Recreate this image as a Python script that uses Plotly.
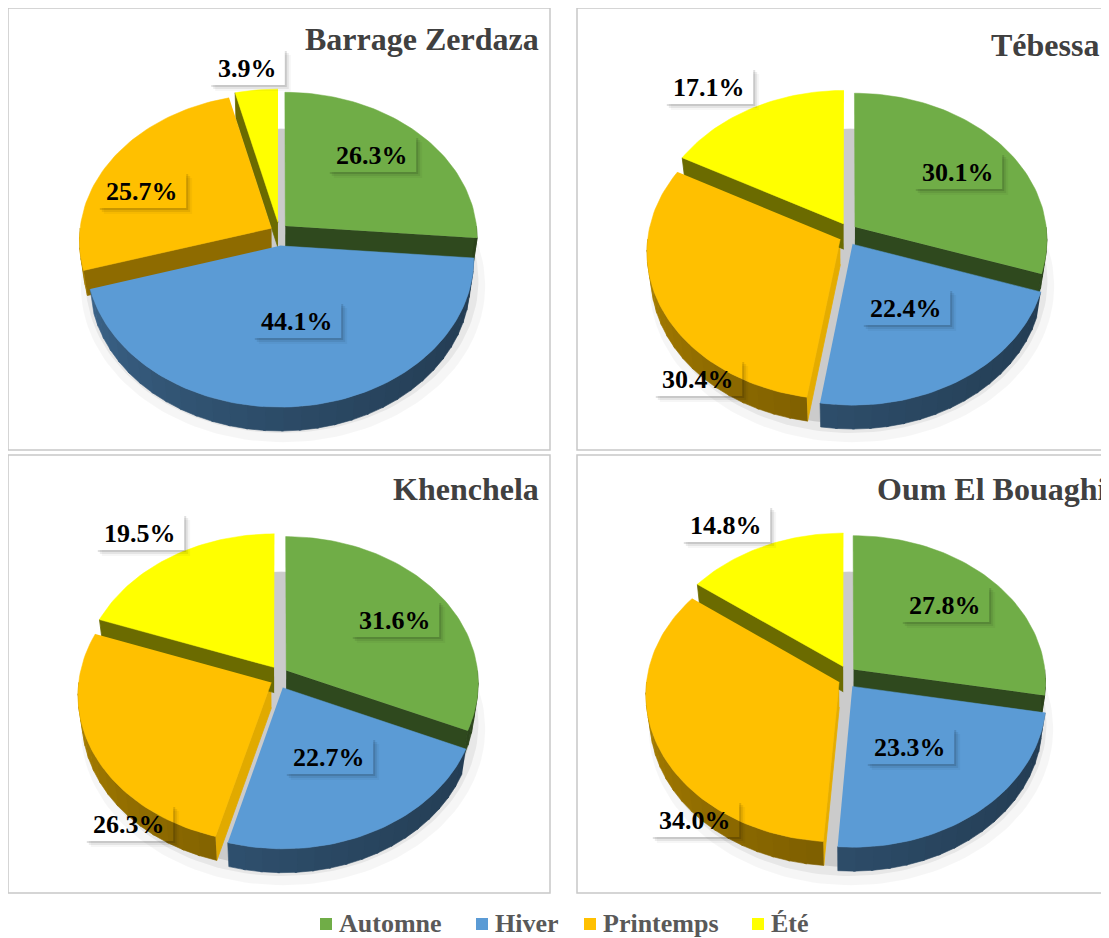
import numpy as np
import plotly.graph_objects as go

# ---------------- data ----------------
seasons = ["Automne", "Hiver", "Printemps", "Été"]
stations = ["Barrage Zerdaza", "Tébessa", "Khenchela", "Oum El Bouaghi"]
zerdaza = [26.3, 44.1, 25.7, 3.9]
tebessa = [30.1, 22.4, 30.4, 17.1]
khenchela = [31.6, 22.7, 26.3, 19.5]
oum_el_bouaghi = [27.8, 23.3, 34.0, 14.8]
station_values = [zerdaza, tebessa, khenchela, oum_el_bouaghi]

# ---------------- style / layout ----------------
season_colors = ["#70AD47", "#5B9BD5", "#FFC000", "#FFFF00"]
W, H = 1109, 938
PAGE_MARGIN = 8  # default body margin of the html page
FONT = "Liberation Serif"
panel_boxes = [(8, 8, 550, 450), (577, 8, 1124, 450), (8, 455, 550, 893), (577, 455, 1124, 893)]
pie_centers = [(279, 234), (848, 234), (279, 677), (847, 677)]
title_anchor = [(541, 39), (1101, 45), (541, 489), (1108.5, 489)]
# label centre offsets from the pie centre (px)
label_offsets = [
    [(93, -80), (18, 86), (-137, -44), (-32, -167)],
    [(110, -63), (58, 73), (-150, 144), (-139, -148)],
    [(116, -58), (50, 79), (-150, 146), (-139, -145)],
    [(98, -73), (63, 69), (-152, 142), (-121, -153)],
]
R = 192
TILT = np.radians(49.5)
DIST = 7.9
DEPTH = 0.206
EXPLODE = 0.045
EXPLODE_Y = 1.8
LABEL_SIZE = 26
LEGEND_SIZE = 26


def hex2rgb(c):
    c = c.lstrip("#")
    return [int(c[i:i + 2], 16) for i in (0, 2, 4)]


def shade(c, k):
    return "rgb(%d,%d,%d)" % tuple(min(255, int(round(v * k))) for v in hex2rgb(c))


fig = go.Figure()


def add_poly(xs, ys, color, width=0.8):
    fig.add_trace(go.Scatter(
        x=list(xs), y=list(ys), mode="lines", fill="toself", fillcolor=color,
        line=dict(color=color, width=width), hoverinfo="skip", showlegend=False))


def make_proj(cx, cy):
    def proj(X, Y, Z):
        X = np.asarray(X, float)
        Y = np.asarray(Y, float)
        Z = np.asarray(Z, float) * np.ones_like(X)
        v = Y * np.sin(TILT) + Z * np.cos(TILT)
        w = -Y * np.cos(TILT) + Z * np.sin(TILT)
        f = DIST / (DIST - w)
        return cx + R * X * f, cy - R * v * f
    return proj


def arc(a0, a1, step=1.5):
    n = max(int(np.ceil(abs(a1 - a0) / step)), 2)
    return np.radians(np.linspace(a0, a1, n + 1))


for p, vals in enumerate(station_values):
    cx, cy = pie_centers[p]
    proj = make_proj(cx, cy)
    total = float(sum(vals))
    cum = np.concatenate([[0], np.cumsum(vals)]) / total * 360.0

    # soft floor shadow (offset down/right)
    th = np.radians(np.linspace(0, 360, 181))
    for rr, alpha, dx, dy in [(1.07, 0.035, 4, 13), (1.04, 0.06, 3, 9), (1.01, 0.12, 2, 5)]:
        sx, sy = proj(rr * np.sin(th), rr * np.cos(th), -DEPTH)
        add_poly(sx + dx, sy + dy, "rgba(0,0,0,%.3f)" % alpha, width=0)

    slices = []
    for i in range(len(vals)):
        a0, a1 = cum[i], cum[i + 1]
        m = np.radians((a0 + a1) / 2)
        ox = EXPLODE * np.sin(m)
        oy = EXPLODE * EXPLODE_Y * np.cos(m)
        slices.append((a0, a1, ox, oy, season_colors[i]))

    # radial cut faces
    for a0, a1, ox, oy, col in slices:
        for a, psi in [(a0, a0 - 90), (a1, a1 + 90)]:
            pr = np.radians(psi)
            if np.cos(pr) < -0.02:
                k = 0.42 + 0.48 * max(0.0, np.sin(pr))
                ar = np.radians(a)
                X = [ox, ox + np.sin(ar), ox + np.sin(ar), ox]
                Y = [oy, oy + np.cos(ar), oy + np.cos(ar), oy]
                Z = np.array([0, 0, -DEPTH, -DEPTH])
                xs, ys = proj(X, Y, Z)
                add_poly(xs, ys, shade(col, k))

    # outer walls (front half)
    for a0, a1, ox, oy, col in slices:
        lo, hi = max(a0, 90.0), min(a1, 270.0)
        if hi <= lo:
            continue
        n = int(np.ceil((hi - lo) / 5.0))
        edges = np.linspace(lo, hi, n + 1)
        for j in range(n):
            t0, t1 = edges[j], edges[j + 1]
            tm = (t0 + t1) / 2
            k = 0.38 + 0.30 * ((tm - 90) / 180.0) ** 1.5
            t = np.radians(np.linspace(t0, min(t1 + 0.6, hi), 5))
            xt, yt = proj(ox + np.sin(t), oy + np.cos(t), 0)
            xb, yb = proj(ox + np.sin(t[::-1]), oy + np.cos(t[::-1]), -DEPTH)
            add_poly(np.concatenate([xt, xb]), np.concatenate([yt, yb]), shade(col, k), width=0.6)

    # top faces
    for a0, a1, ox, oy, col in slices:
        t = arc(a0, a1)
        X = np.concatenate([[ox], ox + np.sin(t)])
        Y = np.concatenate([[oy], oy + np.cos(t)])
        xs, ys = proj(X, Y, 0)
        add_poly(xs, ys, col, width=0.5)

# ---------------- shapes & annotations ----------------
shapes = []
annotations = []

for (x0, y0, x1, y1) in panel_boxes:
    shapes.append(dict(type="rect", x0=x0, y0=y0, x1=x1, y1=y1, xref="x", yref="y",
                       line=dict(color="#c8c8c8", width=1.5), fillcolor="rgba(0,0,0,0)", layer="below"))

for p, name in enumerate(stations):
    tx, ty = title_anchor[p]
    annotations.append(dict(x=tx, y=ty, xref="x", yref="y", text="<b>%s</b>" % name, showarrow=False,
                            xanchor="right", yanchor="middle",
                            font=dict(family=FONT, size=32, color="#404040")))


def text_width(s, size):
    w = 0.0
    for ch in s:
        w += {"%": 1.0, ".": 0.25}.get(ch, 0.5)
    return w * size


for p, vals in enumerate(station_values):
    cx, cy = pie_centers[p]
    for i, v in enumerate(vals):
        dx, dy = label_offsets[p][i]
        lx, ly = cx + dx, cy + dy
        txt = "%.1f%%" % v
        bw = text_width(txt, LABEL_SIZE) + 17
        bh = 36
        x0, x1 = lx - bw / 2, lx + bw / 2
        y0, y1 = ly - bh / 2, ly + bh / 2
        for d, alpha in [(6, 0.035), (4, 0.07), (2, 0.12)]:
            path = "M %.1f %.1f L %.1f %.1f L %.1f %.1f L %.1f %.1f L %.1f %.1f L %.1f %.1f Z" % (
                x1, y0 + d, x1 + d, y0 + d, x1 + d, y1 + d, x0 + d, y1 + d, x0 + d, y1, x1, y1)
            shapes.append(dict(type="path", path=path, xref="x", yref="y",
                               fillcolor="rgba(0,0,0,%.3f)" % alpha, line=dict(width=0), layer="above"))
        annotations.append(dict(x=lx, y=ly + 1, xref="x", yref="y", text="<b>%s</b>" % txt, showarrow=False,
                                xanchor="center", yanchor="middle",
                                font=dict(family=FONT, size=LABEL_SIZE, color="black")))

# legend
legend_square_x = [320, 476, 584, 752]
legend_y = 923
for i, s in enumerate(seasons):
    lx = legend_square_x[i]
    shapes.append(dict(type="rect", x0=lx, x1=lx + 12, y0=legend_y - 5, y1=legend_y + 7, xref="x", yref="y",
                       fillcolor=season_colors[i], line=dict(width=0), layer="above"))
    annotations.append(dict(x=lx + 17, y=legend_y, xref="x", yref="y", text="<b>%s</b>" % s, showarrow=False,
                            xanchor="left", yanchor="middle",
                            font=dict(family=FONT, size=LEGEND_SIZE, color="#595959")))

fig.update_layout(
    width=W - PAGE_MARGIN, height=H - PAGE_MARGIN, margin=dict(l=0, r=0, t=0, b=0),
    paper_bgcolor="white", plot_bgcolor="white",
    xaxis=dict(range=[PAGE_MARGIN, W], visible=False, fixedrange=True),
    yaxis=dict(range=[H, PAGE_MARGIN], visible=False, fixedrange=True),
    shapes=shapes, annotations=annotations, showlegend=False,
)

fig.write_html("out.html")
